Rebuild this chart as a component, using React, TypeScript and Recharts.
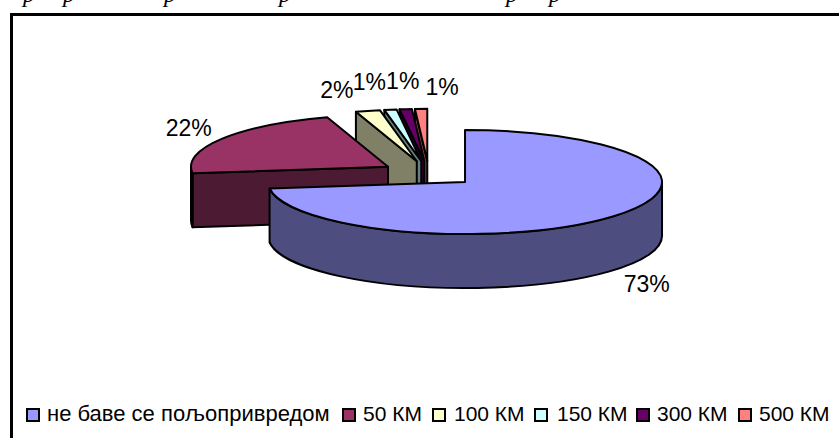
import React from "react";
import { PieChart, Pie, Legend } from "recharts";

const categories = ["не баве се пољопривредом", "50 КМ", "100 КМ", "150 КМ", "300 КМ", "500 КМ"];
const shares = [73, 22, 2, 1, 1, 1];
const topColors = ["#9999ff", "#993366", "#ffffcc", "#ccffff", "#660066", "#ff8080"];
const wallColors = ["#4d4d80", "#4d1a33", "#808066", "#668080", "#330033", "#804040"];

// label distance from the rim of its slice, hand placed like in the original
const labelNudges = [
    [34, 14],
    [-33, -11],
    [-31, -21],
    [-21, -28],
    [-3, -28],
    [21, -22],
];

// where each legend entry starts, the original spacing is uneven
const legendStarts = [0, 316, 406, 508, 610, 712];
const legendTextGaps = [21, 21, 22, 23, 21, 21];

// tops of the caption above the chart are cut off by the page edge
const captionMarks = [29, 69, 170, 285, 512, 555];

// slices are painted back to front, so the big one goes last
const rows = categories
    .map((name, i) => ({ name, value: shares[i], fill: topColors[i], wall: wallColors[i], nudge: labelNudges[i] }))
    .reverse();

const SQUASH = 0.264;
const DEPTH = 54;
const EXPLODE = 48.3;
const RAD = Math.PI / 180;

function slicePoint(cx: number, cy: number, r: number, deg: number) {
    return { x: cx + r * Math.cos(deg * RAD), y: cy - r * SQUASH * Math.sin(deg * RAD) };
}

function sliceCenter(props: any) {
    const { cx, cy, midAngle } = props;
    return {
        x: cx + EXPLODE * Math.cos(midAngle * RAD),
        y: cy - EXPLODE * SQUASH * Math.sin(midAngle * RAD),
    };
}

function Slice3D(props: any) {
    const { outerRadius: r, startAngle, endAngle, fill, wall } = props;
    const c = sliceCenter(props);
    const ry = r * SQUASH;
    const a = Math.min(startAngle, endAngle);
    const b = Math.max(startAngle, endAngle);
    const p0 = slicePoint(c.x, c.y, r, a);
    const p1 = slicePoint(c.x, c.y, r, b);
    const large = b - a > 180 ? 1 : 0;
    const stroke = { stroke: "#000", strokeWidth: 2, strokeLinejoin: "round" as const };

    const walls: React.ReactNode[] = [];

    // radial wall on the counter clockwise edge
    if (Math.cos(b * RAD) < -0.001) {
        walls.push(
            <path
                key="edge"
                d={`M${c.x},${c.y} L${p1.x},${p1.y} L${p1.x},${p1.y + DEPTH} L${c.x},${c.y + DEPTH} Z`}
                fill={wall}
                {...stroke}
            />
        );
    }

    // rim wall, only the part in the front half of the ellipse shows
    const from = Math.max(a, 180);
    const to = Math.min(b, 360);
    if (to > from) {
        const f = slicePoint(c.x, c.y, r, from);
        const t = slicePoint(c.x, c.y, r, to);
        walls.push(
            <path
                key="rim"
                d={`M${f.x},${f.y} A${r},${ry} 0 0 0 ${t.x},${t.y} L${t.x},${t.y + DEPTH} A${r},${ry} 0 0 1 ${f.x},${f.y + DEPTH} Z`}
                fill={wall}
                {...stroke}
            />
        );
    }

    return (
        <g>
            {walls}
            <path
                d={`M${c.x},${c.y} L${p0.x},${p0.y} A${r},${ry} 0 ${large} 0 ${p1.x},${p1.y} Z`}
                fill={fill}
                {...stroke}
            />
        </g>
    );
}

function SliceLabel(props: any) {
    const { outerRadius: r, midAngle, value, nudge, payload } = props;
    const c = sliceCenter(props);
    const rim = slicePoint(c.x, c.y, r, midAngle);
    const [dx, dy] = nudge || payload.nudge;
    const front = midAngle > 180 && midAngle < 360 ? DEPTH : 0;
    return (
        <text
            x={rim.x + dx}
            y={rim.y + dy + front}
            textAnchor="middle"
            dominantBaseline="central"
            fontFamily="Liberation Sans"
            fontSize={23}
            fill="#000"
        >
            {value}%
        </text>
    );
}

function LegendRow() {
    return (
        <div style={{ position: "relative", height: 26, fontFamily: "Liberation Sans", color: "#000", whiteSpace: "nowrap" }}>
            {categories.map((name, i) => (
                <React.Fragment key={name}>
                    <span
                        style={{
                            position: "absolute",
                            left: legendStarts[i],
                            top: 7,
                            width: 10,
                            height: 10,
                            border: "2px solid #000",
                            background: topColors[i],
                        }}
                    />
                    <span
                        style={{
                            position: "absolute",
                            left: legendStarts[i] + legendTextGaps[i],
                            top: 0,
                            fontSize: i === 0 ? 22 : 21,
                            lineHeight: "26px",
                        }}
                    >
                        {name}
                    </span>
                </React.Fragment>
            ))}
        </div>
    );
}

export default function App() {
    return (
        <div style={{ position: "absolute", left: 0, top: 0, width: 839, height: 438, overflow: "hidden", background: "#fff" }}>
            {captionMarks.map((x, i) => (
                <span
                    key={i}
                    style={{ position: "absolute", left: x - 6, top: -20, fontFamily: "Liberation Serif", fontStyle: "italic", fontSize: 24, lineHeight: "28px" }}
                >
                    р
                </span>
            ))}
            <div style={{ position: "absolute", left: 10, top: 13, width: 840, height: 440, borderLeft: "3px solid #000", borderTop: "3px solid #000" }} />
            <div style={{ position: "absolute", left: 0, top: 0 }}>
                <PieChart width={839} height={438} margin={{ top: 0, right: 0, bottom: 0, left: 0 }}>
                    <Pie
                        data={rows}
                        dataKey="value"
                        nameKey="name"
                        cx={428.8}
                        cy={173.6}
                        innerRadius={0}
                        outerRadius={197}
                        startAngle={90}
                        endAngle={450}
                        paddingAngle={0}
                        stroke="#000"
                        shape={Slice3D}
                        label={SliceLabel}
                        labelLine={false}
                        isAnimationActive={false}
                    />
                    <Legend content={LegendRow} wrapperStyle={{ left: 26, top: 401, bottom: "auto", width: 813 }} />
                </PieChart>
            </div>
        </div>
    );
}
